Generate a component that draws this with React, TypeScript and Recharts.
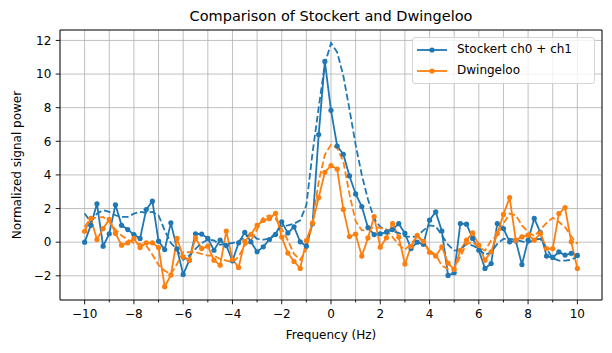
import { LineChart, Line, XAxis, YAxis, CartesianGrid, Legend, ReferenceArea } from 'recharts';

const FONT = '"DejaVu Sans", sans-serif';
const BLUE = '#1f77b4';
const ORANGE = '#ff7f0e';

// frequency bins (Hz)
const freqs = [
  -10, -9.75, -9.5, -9.25, -9, -8.75, -8.5, -8.25, -8, -7.75, -7.5, -7.25,
  -7, -6.75, -6.5, -6.25, -6, -5.75, -5.5, -5.25, -5, -4.75, -4.5, -4.25,
  -4, -3.75, -3.5, -3.25, -3, -2.75, -2.5, -2.25, -2, -1.75, -1.5, -1.25,
  -1, -0.75, -0.5, -0.25, 0, 0.25, 0.5, 0.75, 1, 1.25, 1.5, 1.75,
  2, 2.25, 2.5, 2.75, 3, 3.25, 3.5, 3.75, 4, 4.25, 4.5, 4.75,
  5, 5.25, 5.5, 5.75, 6, 6.25, 6.5, 6.75, 7, 7.25, 7.5, 7.75,
  8, 8.25, 8.5, 8.75, 9, 9.25, 9.5, 9.75, 10,
];

const stockert = [
  0.0, 1.0, 2.28, -0.24, 0.5, 2.22, 1.0, 0.75, 0.45, 0.22, 1.94, 2.44,
  0.06, -0.44, 1.15, -0.4, -1.92, -1.07, 0.5, 0.48, 0.22, -0.48, 0.12, -0.2,
  -1.11, -0.04, 0.58, 0.02, -0.57, -0.28, 0.16, 0.46, 1.21, 0.55, 0.91, 0.02,
  -0.24, 1.1, 6.4, 10.75, 7.84, 5.72, 5.23, 3.94, 2.87, 2.12, 0.87, 0.45,
  0.5, 0.6, 0.75, 1.1, 0.52, -0.38, 0.0, -0.13, 1.31, 1.8, 0.66, -1.98,
  -1.82, 1.11, 1.07, 0.22, -0.48, -1.56, -1.27, 1.11, 0.81, 0.02, 0.08, -1.33,
  0.12, 1.41, 0.57, -0.83, -0.91, -0.58, -0.77, -0.67, -0.79,
];

const dwingeloo = [
  0.65, 1.41, 0.16, 0.81, 1.35, 0.52, -0.18, -0.04, 0.22, -0.32, -0.04, -0.04,
  -0.32, -2.65, -1.96, 0.22, -0.87, -1.07, 0.25, -0.38, -0.24, -1.07, -1.37, 0.66,
  -1.03, -1.5, 0.05, 0.47, 1.0, 1.3, 1.4, 1.72, 0.3, -0.65, -1.15, -1.56,
  0.1, 1.13, 2.65, 4.16, 4.55, 4.35, 1.95, 0.33, 0.48, -0.83, 0.25, 1.52,
  -0.3, 0.26, 1.1, 0.3, -1.3, -0.25, 0.4, 0.05, -0.6, -0.83, -0.28, -1.25,
  -1.62, -0.48, 0.12, 0.55, -0.18, -1.07, -0.57, 0.52, 1.65, 2.65, 0.12, 0.31,
  0.42, 0.12, 0.52, -0.38, -0.38, 1.7, 2.06, 0.02, -1.56,
];

const stockertModel = [
  1.7, 1.2, 1.7, 1.9, 1.8, 1.6, 1.5, 1.5, 1.7, 1.8, 1.75, 1.8,
  1.6, 0.7, -0.05, -0.45, -1.05, -0.8, -0.4, -0.05, 0.15, 0.1, -0.15, -0.1,
  -0.05, 0.05, 0.3, 0.5, 0.2, 0.15, 0.2, 0.55, 0.95, 1.0, 1.1, 1.3,
  2.2, 5.3, 8.0, 10.6, 11.84, 11.3, 9.9, 7.9, 5.8, 4.0, 2.55, 1.4,
  0.9, 0.75, 0.65, 0.55, 0.35, 0.3, 0.35, 0.7, 1.0, 0.95, 0.4, -0.15,
  -0.5, -0.45, -0.1, -0.2, -0.4, -0.75, -0.6, -0.1, 0.2, 0.2, 0.15, 0.05,
  -0.05, 0.15, 0.2, -0.4, -0.95, -1.1, -1.1, -1.05, -0.85,
];

const dwingelooModel = [
  0.9, 1.45, 1.45, 1.5, 1.2, 0.75, 0.4, 0.15, -0.05, -0.1, -0.2, -0.75,
  -1.35, -1.7, -1.9, -1.3, -0.6, -0.6, -0.6, -0.7, -0.8, -0.8, -1.0, -1.1,
  -1.2, -0.85, -0.2, 0.1, 0.75, 1.45, 1.6, 1.4, 0.8, 0.1, -0.7, -1.05,
  -0.45, 1.2, 3.6, 5.2, 5.8, 5.6, 4.8, 2.85, 1.25, 0.7, 0.75, 0.9,
  0.85, 0.75, 0.3, -0.15, -0.45, -0.1, 0.35, 0.0, -0.5, -0.75, -1.4, -1.6,
  -1.6, -0.85, -0.1, 0.0, -0.3, -0.5, 0.1, 0.4, 1.1, 1.7, 1.6, 1.0,
  0.6, 0.35, 0.75, 1.15, 1.45, 1.2, 0.9, 0.35, -0.1,
];

const xTicks = [-10, -9, -8, -7, -6, -5, -4, -3, -2, -1, 0, 1, 2, 3, 4, 5, 6, 7, 8, 9, 10];
const yTicks = [-2, 0, 2, 4, 6, 8, 10, 12];

const legendItems = [
  { name: 'Stockert ch0 + ch1', color: BLUE },
  { name: 'Dwingeloo', color: ORANGE },
];

const data = freqs.map((f, i) => ({
  f,
  stockert: stockert[i],
  dwingeloo: dwingeloo[i],
  stockertModel: stockertModel[i],
  dwingelooModel: dwingelooModel[i],
}));

const fmt = (v: number) => (v < 0 ? '\u2212' + Math.abs(v) : String(v));

const XTick = (props: any) => {
  const { x, y, payload } = props;
  const major = payload.value % 2 === 0;
  return (
    <g>
      <line x1={x} x2={x} y1={y} y2={y + (major ? 4.3 : 2.4)} stroke="#000" strokeWidth={0.9} />
      {major && (
        <text x={x} y={y + 17.5} textAnchor="middle" fontSize={12} fontFamily={FONT} fill="#000">
          {fmt(payload.value)}
        </text>
      )}
    </g>
  );
};

const YTick = (props: any) => {
  const { x, y, payload } = props;
  return (
    <g>
      <line x1={x - 4.3} x2={x} y1={y} y2={y} stroke="#000" strokeWidth={0.9} />
      <text x={x - 8.6} y={y} dy="0.36em" textAnchor="end" fontSize={12} fontFamily={FONT} fill="#000">
        {fmt(payload.value)}
      </text>
    </g>
  );
};

// axis titles placed at fixed spots; prop names avoid recharts' own x/y
const AxisTitle = ({ text, tx, ty, rotate }: { text: string; tx: number; ty: number; rotate?: boolean }) => (
  <text
    x={tx}
    y={ty}
    textAnchor="middle"
    fontSize={12}
    fontFamily={FONT}
    fill="#000"
    transform={rotate ? `rotate(-90 ${tx} ${ty})` : undefined}
  >
    {text}
  </text>
);

const LegendBox = () => (
  <div
    style={{
      boxSizing: 'border-box',
      width: 183,
      border: '1px solid #d5d5d5',
      borderRadius: 3,
      background: 'rgba(255,255,255,0.8)',
      padding: '1px 4px 2px 4px',
      fontFamily: FONT,
      fontSize: 12,
      lineHeight: '21px',
      color: '#000',
    }}
  >
    {legendItems.map((it) => (
      <div key={it.name} style={{ display: 'flex', alignItems: 'center', height: 21 }}>
        <svg width={30} height={10} style={{ display: 'block' }}>
          <line x1={0} x2={30} y1={5} y2={5} stroke={it.color} strokeWidth={1.8} />
          <circle cx={15} cy={5} r={2.6} fill={it.color} />
        </svg>
        <span style={{ marginLeft: 10, whiteSpace: 'nowrap' }}>{it.name}</span>
      </div>
    ))}
  </div>
);

export default function App() {
  return (
    <div style={{ position: 'absolute', left: 0, top: 0, width: 612, height: 353, background: '#fff', fontFamily: FONT }}>
      <div
        style={{
          position: 'absolute',
          left: 0,
          top: 8,
          width: 662,
          textAlign: 'center',
          fontSize: 14.5,
          lineHeight: '17px',
          color: '#000',
        }}
      >
        Comparison of Stockert and Dwingeloo
      </div>
      <LineChart width={612} height={353} data={data} margin={{ top: 30, right: 10, bottom: 0, left: 0 }}>
        <CartesianGrid stroke="#b0b0b0" strokeWidth={0.8} />
        <XAxis
          type="number"
          dataKey="f"
          domain={[-11, 11]}
          ticks={xTicks}
          interval={0}
          allowDataOverflow
          axisLine={false}
          tickLine={false}
          tickSize={0}
          tickMargin={0}
          tick={<XTick />}
          height={53}
          label={<AxisTitle text="Frequency (Hz)" tx={331} ty={339} />}
        />
        <YAxis
          type="number"
          domain={[-3.44, 12.62]}
          ticks={yTicks}
          interval={0}
          allowDataOverflow
          axisLine={false}
          tickLine={false}
          tickSize={0}
          tickMargin={0}
          tick={<YTick />}
          width={60}
          label={<AxisTitle text="Normalized signal power" tx={21} ty={165} rotate />}
        />
        <Line
          type="linear"
          dataKey="stockert"
          name="Stockert ch0 + ch1"
          stroke={BLUE}
          strokeWidth={1.8}
          dot={{ r: 2.6, fill: BLUE, stroke: 'none' }}
          activeDot={false}
          isAnimationActive={false}
        />
        <Line
          type="linear"
          dataKey="dwingeloo"
          name="Dwingeloo"
          stroke={ORANGE}
          strokeWidth={1.8}
          dot={{ r: 2.6, fill: ORANGE, stroke: 'none' }}
          activeDot={false}
          isAnimationActive={false}
        />
        <Line
          type="linear"
          dataKey="stockertModel"
          stroke={BLUE}
          strokeWidth={1.8}
          strokeDasharray="6.7 2.9"
          dot={false}
          activeDot={false}
          legendType="none"
          isAnimationActive={false}
        />
        <Line
          type="linear"
          dataKey="dwingelooModel"
          stroke={ORANGE}
          strokeWidth={1.8}
          strokeDasharray="6.7 2.9"
          dot={false}
          activeDot={false}
          legendType="none"
          isAnimationActive={false}
        />
        <ReferenceArea x1={-11} x2={11} y1={-3.44} y2={12.62} fill="none" stroke="#000" strokeWidth={0.9} />
        <Legend
          layout="vertical"
          verticalAlign="middle"
          align="center"
          content={<LegendBox />}
          wrapperStyle={{ top: 37, left: 412, width: 183, height: 46 }}
        />
      </LineChart>
    </div>
  );
}
